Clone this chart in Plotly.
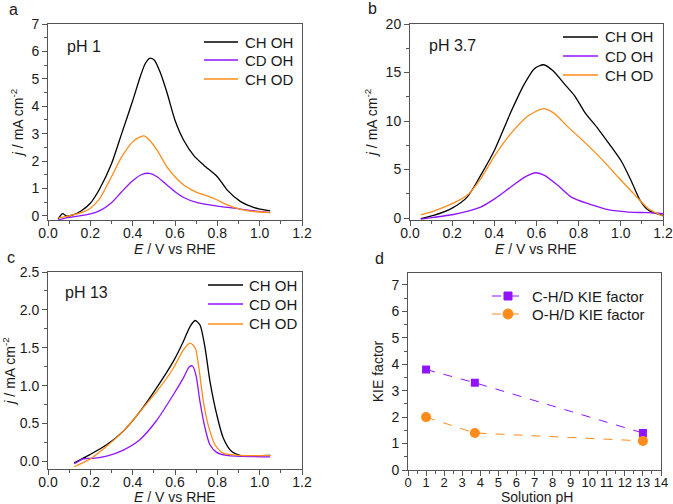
import plotly.graph_objects as go

# ---------- data ----------
# Panel a: pH 1
a_x_chOH = [0.048, 0.068, 0.087, 0.119, 0.158, 0.2, 0.245, 0.3, 0.348, 0.4, 0.435, 0.459, 0.48, 0.502, 0.53, 0.562, 0.6, 0.641, 0.689, 0.736, 0.8, 0.847, 0.91, 0.974, 1.05]
a_y_chOH = [-0.12, 0.08, 0.0, 0.04, 0.19, 0.46, 1.0, 1.9, 3.0, 4.2, 5.06, 5.55, 5.75, 5.69, 5.24, 4.5, 3.49, 2.76, 2.2, 1.85, 1.43, 0.94, 0.52, 0.30, 0.18]
a_x_cdOH = [0.048, 0.087, 0.15, 0.2, 0.245, 0.3, 0.348, 0.4, 0.443, 0.48, 0.515, 0.562, 0.6, 0.641, 0.705, 0.8, 0.879, 0.974, 1.05]
a_y_cdOH = [-0.15, -0.07, 0.0, 0.07, 0.19, 0.48, 0.88, 1.28, 1.51, 1.55, 1.43, 1.13, 0.88, 0.67, 0.48, 0.36, 0.28, 0.18, 0.12]
a_x_chOD = [0.048, 0.087, 0.15, 0.2, 0.245, 0.3, 0.348, 0.4, 0.435, 0.454, 0.48, 0.515, 0.562, 0.6, 0.641, 0.705, 0.752, 0.8, 0.847, 0.91, 0.974, 1.05]
a_y_chOD = [-0.08, -0.02, 0.1, 0.28, 0.64, 1.43, 2.15, 2.7, 2.88, 2.92, 2.76, 2.4, 1.79, 1.43, 1.13, 0.85, 0.73, 0.58, 0.4, 0.24, 0.16, 0.12]

# Panel b: pH 3.7
b_x_chOH = [0.051, 0.112, 0.2, 0.271, 0.335, 0.403, 0.478, 0.542, 0.59, 0.634, 0.677, 0.733, 0.781, 0.829, 0.892, 0.956, 1.004, 1.052, 1.092, 1.131, 1.171, 1.2]
b_y_chOH = [-0.07, 0.27, 1.03, 2.16, 4.4, 7.1, 10.9, 13.8, 15.4, 15.8, 15.2, 13.8, 12.6, 10.9, 9.2, 7.3, 5.8, 3.7, 1.8, 0.8, 0.45, 0.27]
b_x_cdOH = [0.051, 0.112, 0.2, 0.271, 0.335, 0.403, 0.478, 0.542, 0.598, 0.638, 0.701, 0.765, 0.845, 0.94, 1.036, 1.131, 1.2]
b_y_cdOH = [-0.1, 0.07, 0.34, 0.69, 1.13, 2.0, 3.2, 4.2, 4.67, 4.4, 3.37, 2.16, 1.48, 0.86, 0.62, 0.55, 0.45]
b_x_chOD = [0.051, 0.112, 0.2, 0.271, 0.335, 0.403, 0.478, 0.558, 0.634, 0.685, 0.749, 0.829, 0.908, 0.988, 1.068, 1.131, 1.2]
b_y_chOD = [0.34, 0.72, 1.48, 2.34, 4.05, 6.46, 8.7, 10.5, 11.27, 10.76, 9.4, 7.8, 6.1, 4.2, 2.34, 0.96, 0.2]

# Panel c: pH 13
c_x_chOH = [0.124, 0.198, 0.277, 0.356, 0.435, 0.513, 0.592, 0.639, 0.671, 0.695, 0.718, 0.742, 0.765, 0.797, 0.828, 0.868, 0.907, 1.05]
c_y_chOH = [-0.02, 0.09, 0.22, 0.4, 0.66, 0.97, 1.32, 1.58, 1.78, 1.86, 1.8, 1.5, 1.06, 0.62, 0.31, 0.13, 0.08, 0.08]
c_x_cdOH = [0.124, 0.167, 0.214, 0.277, 0.356, 0.435, 0.513, 0.592, 0.639, 0.668, 0.683, 0.699, 0.718, 0.742, 0.765, 0.797, 0.844, 1.05]
c_y_cdOH = [-0.03, 0.035, 0.04, 0.07, 0.15, 0.29, 0.54, 0.88, 1.1, 1.25, 1.26, 1.14, 0.79, 0.44, 0.22, 0.12, 0.08, 0.06]
c_x_chOD = [0.124, 0.198, 0.277, 0.356, 0.435, 0.513, 0.592, 0.639, 0.671, 0.695, 0.715, 0.734, 0.757, 0.789, 0.828, 0.907, 1.05]
c_y_chOD = [-0.07, 0.03, 0.2, 0.4, 0.66, 0.92, 1.23, 1.47, 1.56, 1.5, 1.19, 0.79, 0.48, 0.22, 0.11, 0.08, 0.08]

# Panel d: KIE factors
d_ph = [1, 3.7, 13]
d_kie_CH = [3.8, 3.3, 1.4]
d_kie_OH = [2.0, 1.4, 1.1]

series_names = ["CH OH", "CD OH", "CH OD"]
kie_names = ["C-H/D KIE factor", "O-H/D KIE factor"]
panel_labels = ["a", "b", "c", "d"]
ph_labels = ["pH 1", "pH 3.7", "pH 13"]

# ---------- style ----------
BLACK = "#000000"
PURPLE = "#8f14ff"
ORANGE = "#ff8c1a"
AX = "#555555"
TXT = "#1a1a1a"
FONT = "Arial, Liberation Sans, sans-serif"
W, H = 673, 504

def px_x(p):
    return p / W

def px_y(p):
    return (H - p) / H

fig = go.Figure()

panels = [
    ("x", "y", [(a_x_chOH, a_y_chOH), (a_x_cdOH, a_y_cdOH), (a_x_chOD, a_y_chOD)]),
    ("x2", "y2", [(b_x_chOH, b_y_chOH), (b_x_cdOH, b_y_cdOH), (b_x_chOD, b_y_chOD)]),
    ("x3", "y3", [(c_x_chOH, c_y_chOH), (c_x_cdOH, c_y_cdOH), (c_x_chOD, c_y_chOD)]),
]
colors = [BLACK, PURPLE, ORANGE]
for xa, ya, data in panels:
    for (xs, ys), nm, col in zip(data, series_names, colors):
        fig.add_trace(go.Scatter(x=xs, y=ys, mode="lines", name=nm, showlegend=False,
                                 line=dict(color=col, width=1.3, shape="spline", smoothing=0.7),
                                 xaxis=xa, yaxis=ya))

fig.add_trace(go.Scatter(x=d_ph, y=d_kie_CH, mode="lines+markers", name=kie_names[0], showlegend=False,
                         line=dict(color=PURPLE, width=1, dash="dash"),
                         marker=dict(symbol="square", size=8, color=PURPLE),
                         xaxis="x4", yaxis="y4"))
fig.add_trace(go.Scatter(x=d_ph, y=d_kie_OH, mode="lines+markers", name=kie_names[1], showlegend=False,
                         line=dict(color=ORANGE, width=1, dash="dash"),
                         marker=dict(symbol="circle", size=10, color=ORANGE),
                         xaxis="x4", yaxis="y4"))

def axis(domain, rng, dtick, minor_dtick, title, anchor, fs=14, standoff=0):
    return dict(domain=domain, range=rng, dtick=dtick, tick0=0, anchor=anchor,
                automargin=False, tickangle=0, ticklabelstandoff=standoff,
                showline=True, linecolor=AX, linewidth=1, mirror=True,
                ticks="outside", ticklen=5, tickwidth=1, tickcolor=AX,
                minor=dict(ticks="outside", ticklen=3, dtick=minor_dtick, tickcolor=AX, tick0=0),
                showgrid=False, zeroline=False,
                tickfont=dict(size=fs, color=TXT, family=FONT),
                title=dict(text=title, font=dict(size=14, color=TXT, family=FONT), standoff=4))

ytitle = "<i>j</i> / mA cm<sup>-2</sup>"
xtitle = "<i>E</i> / V vs RHE"

xa_dom = [px_x(48), px_x(302)]
xb_dom = [px_x(410), px_x(663)]
xd_dom = [px_x(408), px_x(661)]
ytop_dom = [px_y(220), px_y(24)]
yc_dom = [px_y(469), px_y(272)]
yd_dom = [px_y(470), px_y(273)]

fig.update_layout(
    width=W, height=H, margin=dict(l=0, r=0, t=0, b=0, autoexpand=False),
    paper_bgcolor="white", plot_bgcolor="white",
    font=dict(family=FONT, color=TXT),
    xaxis=axis(xa_dom, [0, 1.2], 0.2, 0.1, "", "y", standoff=-5),
    yaxis=axis(ytop_dom, [-0.15, 7], 1, 0.5, ytitle, "x"),
    xaxis2=axis(xb_dom, [0, 1.2], 0.2, 0.1, "", "y2", standoff=-5),
    yaxis2=axis(ytop_dom, [-0.2, 20], 5, 2.5, ytitle, "x2"),
    xaxis3=axis(xa_dom, [0, 1.2], 0.2, 0.1, "", "y3", standoff=-5),
    yaxis3=axis(yc_dom, [-0.1, 2.5], 0.5, 0.25, ytitle, "x3"),
    xaxis4=axis(xd_dom, [0, 14], 1, 0.5, "", "y4", fs=13, standoff=-5),
    yaxis4=axis(yd_dom, [0, 7.45], 1, 0.5, "KIE factor", "x4"),
    showlegend=False,
)
fig.update_layout(xaxis3=dict(tickformat=".1f"), xaxis=dict(tickformat=".1f"), xaxis2=dict(tickformat=".1f"),
                  yaxis3=dict(tickformat=".1f"))

def text(t, x, y, size=14, xanchor="center"):
    fig.add_annotation(text=t, x=px_x(x), y=px_y(y), xref="paper", yref="paper",
                       showarrow=False, font=dict(size=size, family=FONT, color=TXT),
                       xanchor=xanchor, yanchor="middle")

# x axis titles
text(xtitle, 175, 249)
text(xtitle, 536, 249)
text(xtitle, 175, 497)
text("Solution pH", 537, 497)

# Legends drawn manually (line sample + label)
legend_specs = [
    (204, 238, 243, [42, 60, 79]),
    (563, 598, 603, [37, 56, 75]),
    (208, 243, 247, [285, 304, 324]),
]
for x0, x1, xt, rows in legend_specs:
    for nm, col, ry in zip(series_names, colors, rows):
        fig.add_shape(type="line", xref="paper", yref="paper",
                      x0=px_x(x0), x1=px_x(x1), y0=px_y(ry), y1=px_y(ry),
                      line=dict(color=col, width=1.3))
        text(nm, xt, ry, size=15, xanchor="left")

# Panel d legend with markers
for nm, col, ry, sym in zip(kie_names, [PURPLE, ORANGE], [296, 314], ["square", "circle"]):
    fig.add_shape(type="line", xref="paper", yref="paper",
                  x0=px_x(492), x1=px_x(527), y0=px_y(ry), y1=px_y(ry),
                  line=dict(color=col, width=1, dash="dash"))
    r = 4 if sym == "square" else 5
    fig.add_shape(type="rect" if sym == "square" else "circle", xref="paper", yref="paper",
                  x0=px_x(508 - r), x1=px_x(508 + r), y0=px_y(ry + r), y1=px_y(ry - r),
                  line=dict(color=col, width=1), fillcolor=col)
    text(nm, 530, ry, size=15, xanchor="left")

# Panel letters and pH labels
letter_pos = [(13, 9), (372, 8), (11, 257), (379, 258)]
for lab, (lx, ly) in zip(panel_labels, letter_pos):
    text(lab, lx, ly, size=16)
ph_pos = [(65, 46), (427, 45), (63, 293)]
for lab, (lx, ly) in zip(ph_labels, ph_pos):
    text(lab, lx, ly, size=16, xanchor="left")

fig.write_html("out.html", config={"displayModeBar": False},
               post_script="document.body.style.margin='0';document.body.style.overflow='hidden';")
